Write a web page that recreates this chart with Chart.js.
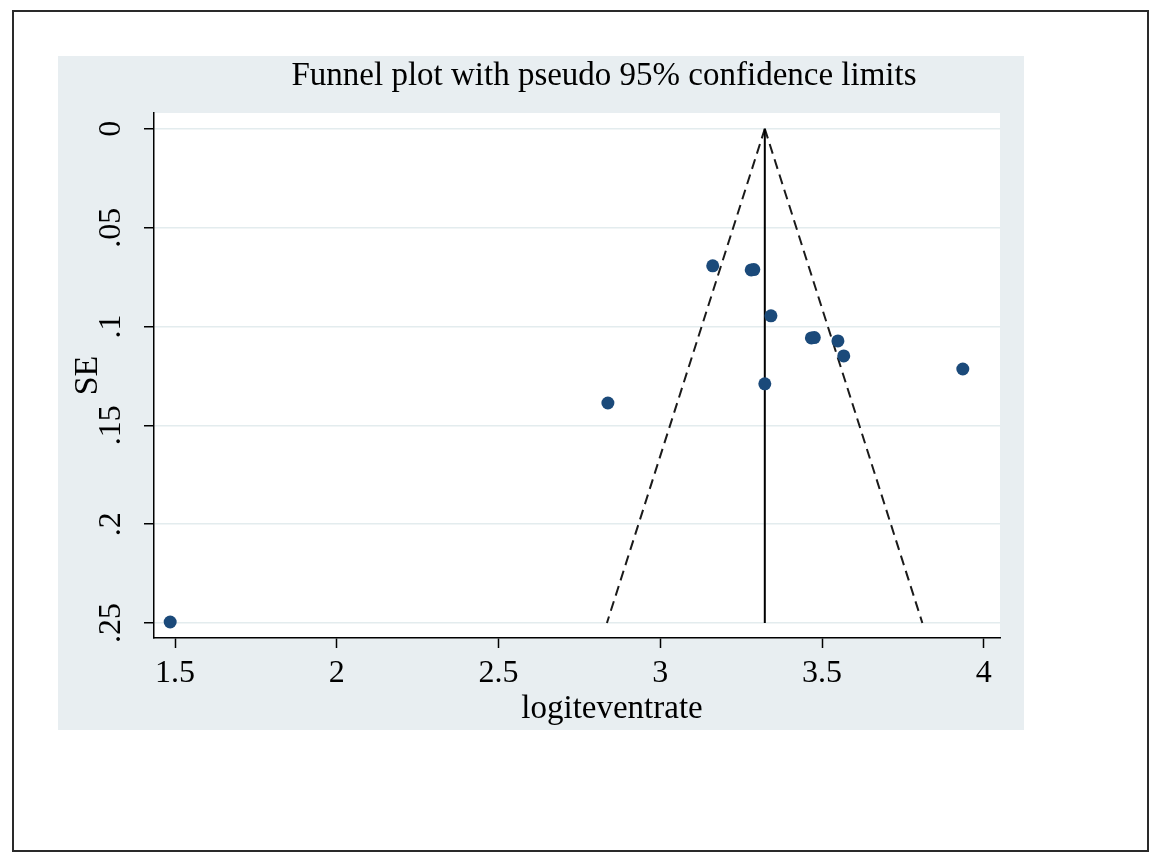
<!DOCTYPE html>
<html>
<head>
<meta charset="utf-8">
<title>Funnel plot</title>
<script src="https://cdn.jsdelivr.net/npm/chart.js@4.4.1/dist/chart.umd.min.js"></script>
<style>
  html, body { margin: 0; padding: 0; background: #ffffff; }
  #funnel__chart { display: block; }
</style>
</head>
<body>
<canvas id="funnel__chart" width="1156" height="852"></canvas>
<script>
// Study estimates (logit event rate vs standard error)
const studyLogit = [1.485, 2.838, 3.162, 3.281, 3.289, 3.323, 3.342, 3.467, 3.476, 3.549, 3.567, 3.935];
const studySE = [0.2495, 0.1387, 0.0693, 0.0714, 0.0712, 0.1290, 0.0946, 0.1058, 0.1056, 0.1073, 0.1149, 0.1215];

// Pooled estimate and pseudo 95% limits (end points of the funnel)
const pooledX = [3.323, 3.323];
const limitSE = [0, 0.25];
const lowerLimitX = [3.323, 2.835];
const upperLimitX = [3.323, 3.810];

// Axis ticks
const xTickValues = [1.5, 2, 2.5, 3, 3.5, 4];
const xTickLabels = ['1.5', '2', '2.5', '3', '3.5', '4'];
const yTickValues = [0, 0.05, 0.1, 0.15, 0.2, 0.25];
const yTickLabels = ['0', '.05', '.1', '.15', '.2', '.25'];

const titleText = 'Funnel plot with pseudo 95% confidence limits';
const xTitleText = 'logiteventrate';
const yTitleText = 'SE';

const serif = '"Liberation Serif", "Times New Roman", serif';

const toPoints = (xs, ys) => xs.map((x, i) => ({ x: x, y: ys[i] }));

// Stata-like frame: outer box, grey-blue graph region, white plot region, titles
const stataFrame = {
  id: 'stataFrame',
  beforeDraw(chart) {
    const { ctx, chartArea: a } = chart;
    ctx.save();
    ctx.fillStyle = '#ffffff';
    ctx.fillRect(0, 0, chart.width, chart.height);
    ctx.strokeStyle = '#2a2a2a';
    ctx.lineWidth = 2;
    ctx.strokeRect(13, 11, 1135, 840);
    ctx.fillStyle = '#e8eef1';
    ctx.fillRect(a.left - 96, a.top - 57, a.width + 120, a.height + 149);
    ctx.fillStyle = '#ffffff';
    ctx.fillRect(a.left, a.top, a.width, a.height);
    ctx.restore();
  },
  afterDraw(chart) {
    const { ctx, chartArea: a } = chart;
    ctx.save();
    ctx.fillStyle = '#000000';
    ctx.textAlign = 'center';
    ctx.textBaseline = 'alphabetic';
    ctx.font = '33px ' + serif;
    ctx.fillText(titleText, a.left + 450, a.top - 28);
    ctx.font = '33px ' + serif;
    ctx.fillText(xTitleText, a.left + 458, a.bottom + 80);
    ctx.restore();
  }
};

const ctx = document.getElementById('funnel__chart').getContext('2d');
const funnelChart = new Chart(ctx, {
  type: 'scatter',
  data: {
    datasets: [
      {
        label: 'Studies',
        data: toPoints(studyLogit, studySE),
        backgroundColor: '#1b4a7a',
        borderWidth: 0,
        pointRadius: 6.5,
      },
      {
        label: 'Pooled',
        type: 'line',
        data: toPoints(pooledX, limitSE),
        borderColor: '#000000',
        borderWidth: 2,
        pointRadius: 0,
        fill: false,
      },
      {
        label: 'Lower limit',
        type: 'line',
        data: toPoints(lowerLimitX, limitSE),
        borderColor: '#1a1a1a',
        borderWidth: 2,
        borderDash: [10, 6],
        pointRadius: 0,
        fill: false,
      },
      {
        label: 'Upper limit',
        type: 'line',
        data: toPoints(upperLimitX, limitSE),
        borderColor: '#1a1a1a',
        borderWidth: 2,
        borderDash: [10, 6],
        pointRadius: 0,
        fill: false,
      },
    ],
  },
  options: {
    responsive: false,
    animation: false,
    layout: {
      padding: { left: 58, top: 113, right: 156, bottom: 122 },
    },
    plugins: {
      legend: { display: false },
      tooltip: { enabled: false },
      title: { display: false },
    },
    scales: {
      x: {
        type: 'linear',
        position: 'bottom',
        min: 1.435,
        max: 4.05,
        afterBuildTicks: (s) => { s.ticks = xTickValues.map(v => ({ value: v })); },
        afterFit: (s) => { s.height = 92; },
        ticks: {
          callback: (v, i) => xTickLabels[i],
          color: '#000000',
          font: { family: serif, size: 32 },
          padding: 6,
          maxRotation: 0,
          autoSkip: false,
        },
        grid: {
          drawOnChartArea: false,
          drawTicks: true,
          tickLength: 10,
          tickColor: '#000000',
          tickWidth: 1.5,
        },
        border: { display: true, color: '#000000', width: 1.5 },
        title: { display: false },
      },
      y: {
        type: 'linear',
        position: 'left',
        reverse: true,
        min: -0.008,
        max: 0.2576,
        afterBuildTicks: (s) => { s.ticks = yTickValues.map(v => ({ value: v })); },
        afterFit: (s) => { s.width = 96; },
        ticks: {
          callback: (v, i) => yTickLabels[i],
          color: '#000000',
          font: { family: serif, size: 32 },
          padding: 12,
          minRotation: 90,
          maxRotation: 90,
          crossAlign: 'center',
          autoSkip: false,
        },
        grid: {
          color: '#e3ecee',
          lineWidth: 1.5,
          drawTicks: true,
          tickLength: 10,
          tickColor: '#000000',
          tickWidth: 1.5,
        },
        border: { display: true, color: '#000000', width: 1.5 },
        title: {
          display: true,
          text: yTitleText,
          color: '#000000',
          font: { family: serif, size: 34 },
          padding: { top: 10, bottom: 0 },
        },
      },
    },
  },
  plugins: [stataFrame],
});
</script>
</body>
</html>
